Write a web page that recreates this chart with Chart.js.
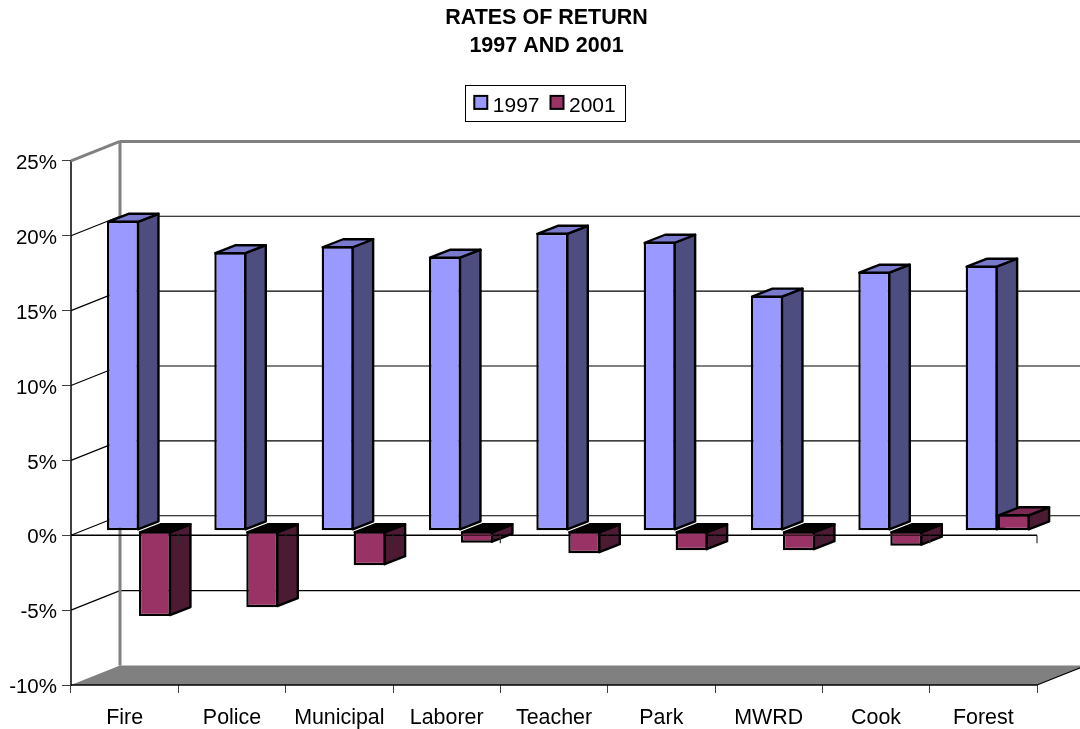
<!DOCTYPE html>
<html><head><meta charset="utf-8">
<style>html,body{margin:0;padding:0;background:#fff}canvas{display:block}</style>
<script src="https://cdn.jsdelivr.net/npm/chart.js@4/dist/chart.umd.min.js"></script>
</head><body><canvas id="c" width="1080" height="729"></canvas>
<script>
const categories = ['Fire','Police','Municipal','Laborer','Teacher','Park','MWRD','Cook','Forest'];
const values1997 = [20.7,18.6,19.0,18.3,19.9,19.3,15.7,17.3,17.7];
const values2001 = [-5.7,-5.1,-2.3,-0.8,-1.5,-1.3,-1.3,-1.0,1.1];
const titleLines = ['RATES OF RETURN','1997 AND 2001'];
const zeroLineOverFront = ['Laborer','MWRD','Cook'];
const FONT = '"Liberation Sans", Arial, sans-serif';
const WALL = {dx:49, dy:-19.5};
const BAR = {dx:14.3, dy:-4.5, ddx:20.5, ddy:-8};
const faces = [
  {side:'#4D4D80', top:'#7A7ACC'},
  {side:'#4D1A33', top:'#7A2952'}
];
const LW = 2.4;
const TOP_PAD = 34;
function line(ctx,x1,y1,x2,y2,color,w){ctx.strokeStyle=color;ctx.lineWidth=w;ctx.beginPath();ctx.moveTo(x1,y1);ctx.lineTo(x2,y2);ctx.stroke();}
function poly(ctx,pts,fill,stroke,w){ctx.beginPath();pts.forEach((p,i)=>i?ctx.lineTo(p[0],p[1]):ctx.moveTo(p[0],p[1]));ctx.closePath();ctx.fillStyle=fill;ctx.fill();if(stroke){ctx.strokeStyle=stroke;ctx.lineWidth=w;ctx.lineJoin='round';ctx.stroke();}}
const threeD = {
  id:'threeD',
  afterLayout(chart){
    const t=chart.titleBlock, l=chart.legend;
    t.left+=28; t.right+=28; t.top-=TOP_PAD; t.bottom-=TOP_PAD;
    l.left+=26; l.right+=26; l.top-=TOP_PAD; l.bottom-=TOP_PAD;
    l.legendHitBoxes.forEach(h=>{h.left+=26;});
  },
  beforeDatasetsDraw(chart){
    const ctx=chart.ctx, {left,right}=chart.chartArea, ys=chart.scales.y;
    ctx.save();
    const by=ys.getPixelForValue(-10);
    poly(ctx,[[left,by],[left+WALL.dx,by+WALL.dy],[right+WALL.dx,by+WALL.dy],[right,by]],'#808080');
    ys.ticks.forEach(t=>{
      const y=ys.getPixelForValue(t.value);
      if(t.value===-10) return;
      if(t.value===25){
        line(ctx,left,y,left+WALL.dx,y+WALL.dy,'#808080',3);
        line(ctx,left+WALL.dx,y+WALL.dy,right+WALL.dx,y+WALL.dy,'#808080',3);
      } else {
        line(ctx,left,y,left+WALL.dx,y+WALL.dy,'#000',1.2);
        line(ctx,left+WALL.dx,y+WALL.dy,right+WALL.dx,y+WALL.dy,'#000',1.2);
      }
    });
    line(ctx,left+WALL.dx,ys.getPixelForValue(25)+WALL.dy,left+WALL.dx,by+WALL.dy,'#808080',3);
    line(ctx,left,by,right,by,'#000',1.5);
    line(ctx,right,by,right+WALL.dx,by+WALL.dy,'#000',1.2);
    const z=ys.getPixelForValue(0);
    categories.forEach((c,i)=>{
      [0,1].forEach(d=>{
        const el=chart.getDatasetMeta(d).data[i];
        const l=el.x-el.width/2+BAR.dx+1, r=el.x+el.width/2+BAR.dx-1;
        const t=Math.min(el.y,el.base)+BAR.dy+1, b=Math.max(el.y,el.base)+BAR.dy-1;
        const neg=el.y>el.base;
        poly(ctx,[[r,t],[r+BAR.ddx,t+BAR.ddy],[r+BAR.ddx,b+BAR.ddy],[r,b]],faces[d].side,'#000',LW);
        poly(ctx,[[l,t],[l+BAR.ddx,t+BAR.ddy],[r+BAR.ddx,t+BAR.ddy],[r,t]],neg?'#000':faces[d].top,'#000',LW);
      });
    });
    line(ctx,left,z,right,z,'#000',1.5);
    for(let i=1;i<=categories.length;i++){
      const x=left+(right-left)*i/categories.length;
      line(ctx,x,z,x,z+8,'#303030',1.2);
    }
    ctx.restore();
    ctx.save();
    ctx.translate(BAR.dx,BAR.dy);
  },
  afterDatasetsDraw(chart){
    chart.ctx.restore();
    const ctx=chart.ctx, z=chart.scales.y.getPixelForValue(0);
    ctx.save();
    zeroLineOverFront.forEach(name=>{
      const el=chart.getDatasetMeta(1).data[categories.indexOf(name)];
      line(ctx,el.x-el.width/2+BAR.dx,z,el.x+el.width/2+BAR.dx,z,'#401528',1.5);
    });
    ctx.restore();
  },
  afterDraw(chart){
    const ctx=chart.ctx,lg=chart.legend,ds=chart.data.datasets;
    ctx.save();
    ctx.strokeStyle='#000';ctx.lineWidth=1;
    ctx.strokeRect(465.5,85.5,160,36);
    lg.legendHitBoxes.forEach((h,i)=>{
      ctx.fillStyle=ds[i].backgroundColor;ctx.strokeStyle='#000';ctx.lineWidth=2;
      const y=lg.top+10;
      ctx.fillRect(h.left+1,y,13,13);ctx.strokeRect(h.left+1,y,13,13);
    });
    ctx.restore();
  }
};
new Chart(document.getElementById('c'),{
  type:'bar',
  data:{labels:categories,datasets:[
    {label:'1997',data:values1997,backgroundColor:'#9999FF',borderColor:'#000',borderWidth:LW,borderSkipped:false,clip:false,barPercentage:1,categoryPercentage:0.596},
    {label:'2001',data:values2001,backgroundColor:'#993366',borderColor:'#000',borderWidth:LW,borderSkipped:false,clip:false,barPercentage:1,categoryPercentage:0.596}
  ]},
  options:{
    responsive:false,animation:false,
    layout:{padding:{left:0,right:43,top:TOP_PAD,bottom:0}},
    plugins:{
      tooltip:{enabled:false},
      title:{display:true,text:titleLines,color:'#000',font:{family:FONT,size:21.5,weight:'bold',lineHeight:1.3},padding:{top:4,bottom:26}},
      legend:{display:true,position:'top',labels:{color:'#000',font:{family:FONT,size:21},boxWidth:9,boxHeight:13,padding:10,
        generateLabels(chart){return chart.data.datasets.map((d,i)=>({text:d.label,fillStyle:'rgba(0,0,0,0)',strokeStyle:'rgba(0,0,0,0)',lineWidth:0,fontColor:'#000',datasetIndex:i}));}}}
    },
    scales:{
      x:{
        afterFit(s){s.height=44;},
        grid:{drawOnChartArea:false,drawTicks:true,tickLength:8,color:'#404040',offset:true},
        border:{display:false},
        ticks:{color:'#000',font:{family:FONT,size:21.4},padding:12,maxRotation:0,autoSkip:false}
      },
      y:{
        min:-10,max:25,
        afterFit(s){s.width=71;},
        grid:{drawOnChartArea:false,drawTicks:true,tickLength:9,color:'#404040'},
        border:{display:true,color:'#404040',width:2},
        ticks:{stepSize:5,color:'#000',font:{family:FONT,size:20.5},padding:5,labelOffset:2.5,callback:v=>v+'%'}
      }
    }
  },
  plugins:[threeD]
});
</script></body></html>
